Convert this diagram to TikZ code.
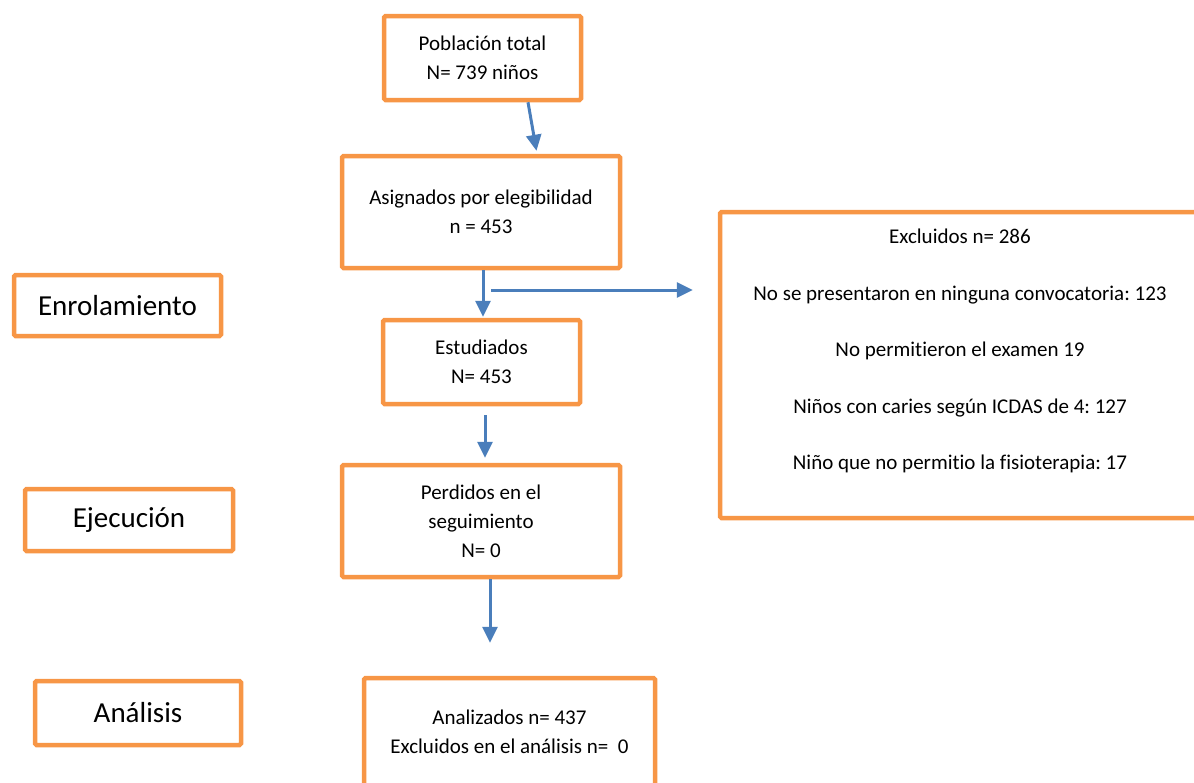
\documentclass[tikz,border=0pt]{standalone}
\usepackage{fontspec}
\setmainfont{Carlito}[Ligatures={NoCommon}]
\frenchspacing
\usetikzlibrary{arrows.meta}
\definecolor{boxorange}{HTML}{F79646}
\definecolor{arrblue}{HTML}{4A7EBB}
\tikzset{
  box/.style={draw=boxorange, line width=4.5pt, rounded corners=1.5pt, fill=white,
    inner sep=0pt, align=center, font=\fontsize{21}{29}\selectfont},
  phase/.style={box, font=\fontsize{29}{35}\selectfont},
  txt/.style={inner sep=0pt, align=center},
  arr/.style={draw=arrblue, line width=3pt, -{Triangle[length=16pt,width=15pt]}}
}
\begin{document}
\begin{tikzpicture}[x=1pt,y=-1pt]
\useasboundingbox (0,0) rectangle (1194,782);
\clip (0,0) rectangle (1194,782);
\node[box, minimum width=197pt, minimum height=84pt] (b1) at (482.5,58) {Población total\\N= 739 niños};
\node[box, minimum width=278pt, minimum height=112pt] (b2) at (481,212) {Asignados por elegibilidad\\n = 453};
\node[box, minimum width=197pt, minimum height=84pt] (b3) at (481.5,362) {Estudiados\\N= 453};
\node[box, minimum width=278pt, minimum height=112pt] (b4) at (481,521) {Perdidos en el\\seguimiento\\N= 0};
\node[box, minimum width=291pt, minimum height=108pt] (b5) at (509.5,732) {Analizados n= 437\\Excluidos en el análisis n=\ \ 0};
\node[box, minimum width=480pt, minimum height=306pt] (excl) at (960,365) {};
\node[txt, font=\fontsize{21}{56.5}\selectfont] (excltxt) at (960,351) {Excluidos n= 286\\No se presentaron en ninguna convocatoria: 123\\No permitieron el examen 19\\Niños con caries según ICDAS de 4: 127\\Niño que no permitio la fisioterapia: 17};
\node[phase, minimum width=207pt, minimum height=61pt] (enrol) at (117.5,305.5) {Enrolamiento};
\node[phase, minimum width=208pt, minimum height=62pt] (ejec) at (129,520) {Ejecución};
\node[phase, minimum width=206pt, minimum height=64pt] (anal) at (138,713) {Análisis};
\draw[arr, shorten >=3pt] ([xshift=45.5pt]b1.south) -- ([xshift=56pt]b2.north);
\draw[arr, shorten >=1pt] ([xshift=2pt]b2.south) -- ([xshift=1.5pt]b3.north);
\coordinate (hs) at (491,290);
\draw[arr] (hs) -- ([xshift=-25pt]hs -| excl.west);
\draw[arr, shorten <=9pt, shorten >=5pt] ([xshift=3.5pt]b3.south) -- ([xshift=4pt]b4.north);
\draw[arr, shorten >=33pt] ([xshift=9pt]b4.south) -- ([xshift=-19.5pt]b5.north);
\end{tikzpicture}
\end{document}
